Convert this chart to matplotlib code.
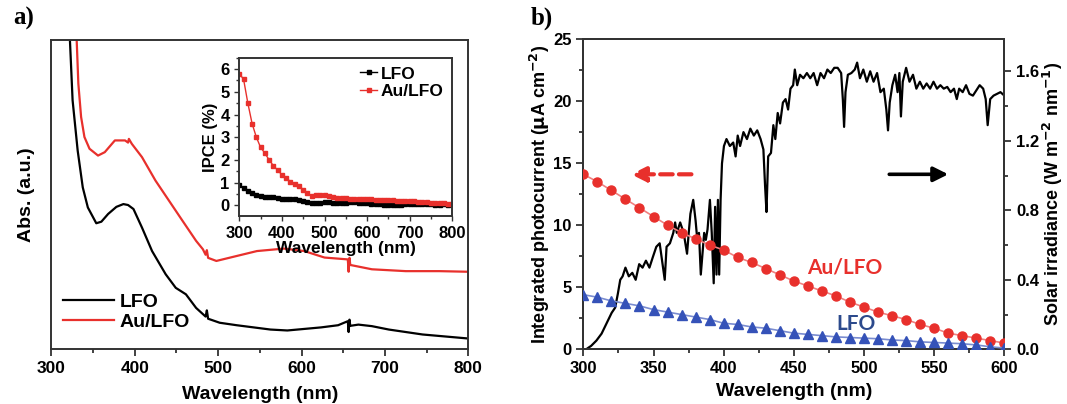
import matplotlib.pyplot as plt
from matplotlib.ticker import MultipleLocator

plt.rcParams['font.family'] = ['Liberation Sans', 'DejaVu Sans']
plt.rcParams['font.weight'] = 'bold'
plt.rcParams['axes.labelweight'] = 'bold'
plt.rcParams['mathtext.default'] = 'bf'

# ---- panel a: absorption spectra (arbitrary units) ----
abs_lfo_wl = [318, 322.3, 325.5, 331.6, 337.7, 343.8, 353.9, 360.0, 368.1, 378.0, 386.4, 392.0,
              398.5, 408.7, 420.8, 437.1, 449.2, 461.4, 473.6, 485.0, 486.5, 488.0, 501.9,
              522.2, 562.8, 583.0, 623.6, 643.9, 655.5, 656.5, 657.5, 658.5, 668.2, 684.4,
              704.7, 745.2, 800]
abs_lfo = [1.15, 1.0, 0.805, 0.642, 0.523, 0.458, 0.407, 0.412, 0.437, 0.460, 0.469, 0.466,
           0.453, 0.393, 0.317, 0.242, 0.198, 0.177, 0.133, 0.105, 0.125, 0.098, 0.085,
           0.077, 0.063, 0.060, 0.070, 0.077, 0.090, 0.055, 0.095, 0.075, 0.079, 0.074,
           0.063, 0.047, 0.034]

abs_au_wl = [327, 330.4, 332.4, 335.7, 339.7, 345.8, 356.0, 364.1, 376.2, 388.4, 392.0, 393.0,
             396.5, 408.7, 424.9, 441.1, 457.3, 473.6, 481.7, 485.0, 486.5, 488.0, 497.9,
             522.2, 546.6, 579.0, 603.3, 627.6, 655.5, 656.5, 657.5, 658.5, 684.4, 725.0,
             765.5, 800]
abs_au = [1.15, 1.0, 0.859, 0.751, 0.686, 0.648, 0.626, 0.637, 0.675, 0.675, 0.668, 0.680,
          0.664, 0.621, 0.545, 0.480, 0.415, 0.350, 0.323, 0.305, 0.320, 0.295, 0.285,
          0.301, 0.317, 0.325, 0.317, 0.296, 0.290, 0.250, 0.295, 0.272, 0.258, 0.252,
          0.252, 0.250]

# ---- inset: IPCE (%) ----
ipce_wl = list(range(300, 801, 10))
ipce_au = [5.8, 5.55, 4.5, 3.6, 3.0, 2.55, 2.3, 2.0, 1.75, 1.55, 1.35, 1.2, 1.05, 0.95, 0.85,
           0.7, 0.55, 0.42, 0.46, 0.44, 0.44, 0.42, 0.38, 0.35, 0.33, 0.32, 0.30, 0.29, 0.28,
           0.28, 0.27, 0.27, 0.26, 0.25, 0.24, 0.24, 0.22, 0.21, 0.20, 0.19, 0.19, 0.18,
           0.16, 0.15, 0.14, 0.13, 0.12, 0.10, 0.09, 0.08, 0.07]
ipce_lfo_wl = list(range(300, 791, 10))
ipce_lfo = [0.9, 0.75, 0.65, 0.55, 0.47, 0.42, 0.38, 0.37, 0.36, 0.33, 0.30, 0.28, 0.27, 0.28,
            0.25, 0.20, 0.15, 0.12, 0.12, 0.13, 0.15, 0.14, 0.13, 0.12, 0.12, 0.13, 0.14,
            0.14, 0.13, 0.11, 0.09, 0.06, 0.05, 0.06, 0.04, 0.02, 0.02, 0.03, 0.04, 0.05,
            0.05, 0.06, 0.07, 0.06, 0.05, 0.05, 0.04, 0.02, 0.05, 0.04]

# ---- panel b: integrated photocurrent (uA cm-2) ----
jph_wl = list(range(300, 601, 10))
jph_au = [14.1, 13.5, 12.8, 12.1, 11.4, 10.7, 10.0, 9.4, 8.9, 8.4, 8.0, 7.4, 7.0, 6.5, 6.0,
          5.5, 5.1, 4.7, 4.3, 3.8, 3.4, 3.0, 2.7, 2.4, 2.0, 1.7, 1.3, 1.1, 0.9, 0.7, 0.5]
jph_lfo = [4.4, 4.2, 3.9, 3.7, 3.5, 3.2, 3.0, 2.8, 2.6, 2.4, 2.1, 2.0, 1.8, 1.7, 1.5, 1.3,
           1.2, 1.1, 1.0, 0.95, 0.9, 0.85, 0.75, 0.7, 0.6, 0.55, 0.5, 0.45, 0.35, 0.2, 0.1]

# ---- solar irradiance (W m-2 nm-1) ----
sun_wl = [302, 305.6, 309.3, 313, 316.6, 320.2, 322.7, 324.6, 326.3, 328, 330, 332.4, 334.9,
          337.3, 339.8, 342.2, 344.6, 347.1, 349.5, 352, 354.4, 356.8, 358, 359.3, 361.7,
          364.1, 365.4, 366.6, 369, 371.5, 373.9, 375.1, 376.3, 378.3, 380, 381.2, 382.4,
          383.7, 384.9, 386.1, 387.3, 388.5, 390.2, 391.5, 392.9, 393.9, 394.9, 395.9,
          396.8, 397.8, 398.8, 400.2, 402, 404.4, 406.8, 408.5, 410, 411.7, 414.1, 416.6,
          419, 421.5, 423.9, 426.3, 428.3, 429.5, 430.5, 431.7, 433.7, 435.4, 436.8, 438.5,
          440.2, 442.2, 444.1, 445.9, 447.6, 449.5, 450.7, 452.4, 454.4, 456.8, 459.3,
          461.7, 464.1, 466.6, 469, 471.5, 473.9, 476.3, 478.8, 481.2, 483.7, 484.9, 485.8,
          486.8, 488.5, 491, 493.4, 495.1, 497.1, 499.5, 502, 504.4, 506.8, 509.3, 511.7,
          514.1, 515.9, 517.1, 518.3, 520.2, 522.2, 523.9, 525.2, 526.3, 527.6, 530, 532.4,
          534.9, 537.3, 539.8, 542.2, 544.6, 547.1, 549.5, 552, 554.4, 556.8, 559.3, 561.7,
          564.1, 566.1, 567.8, 570.3, 572.7, 575.1, 577.6, 580, 582.4, 584.9, 586.7, 588.1,
          589.9, 592.3, 594.8, 597.2, 600]
sun = [0.0, 0.02, 0.05, 0.09, 0.15, 0.21, 0.24, 0.32, 0.40, 0.42, 0.47, 0.42, 0.44,
       0.40, 0.49, 0.47, 0.51, 0.47, 0.53, 0.59, 0.61, 0.47, 0.40, 0.59, 0.61,
       0.67, 0.73, 0.67, 0.73, 0.67, 0.55, 0.67, 0.78, 0.86, 0.74, 0.63, 0.67,
       0.43, 0.55, 0.67, 0.63, 0.69, 0.86, 0.67, 0.38, 0.82, 0.43, 0.86,
       0.43, 0.86, 1.07, 1.17, 1.21, 1.17, 1.19, 1.11, 1.23, 1.17, 1.25, 1.21,
       1.27, 1.23, 1.26, 1.21, 1.15, 0.94, 0.79, 1.11, 1.13, 1.29, 1.21, 1.36,
       1.30, 1.42, 1.44, 1.38, 1.50, 1.52, 1.61, 1.52, 1.58, 1.56, 1.59,
       1.56, 1.59, 1.52, 1.59, 1.56, 1.61, 1.59, 1.62, 1.62, 1.59, 1.44, 1.28,
       1.48, 1.58, 1.59, 1.61, 1.65, 1.56, 1.61, 1.54, 1.60, 1.54, 1.59, 1.48,
       1.50, 1.38, 1.26, 1.42, 1.52, 1.58, 1.48, 1.59, 1.34, 1.54, 1.62, 1.54,
       1.58, 1.50, 1.54, 1.50, 1.53, 1.50, 1.54, 1.50, 1.52, 1.50, 1.51, 1.48,
       1.50, 1.44, 1.50, 1.48, 1.52, 1.47, 1.46, 1.49, 1.52, 1.50, 1.44, 1.29,
       1.44, 1.46, 1.47, 1.48, 1.46]

RED = '#e8302c'
BLUE = '#3552b8'
SPINE = '#333333'

fig = plt.figure(figsize=(10.67, 4.04), dpi=100)


def style_axes(ax, size=12):
    for s in ax.spines.values():
        s.set_linewidth(1.4)
        s.set_color(SPINE)
    ax.tick_params(which='both', direction='out', width=1.3, color=SPINE, labelsize=size)
    ax.tick_params(which='major', length=5)
    ax.tick_params(which='minor', length=3)


# panel a
ax1 = fig.add_axes([0.0481, 0.1361, 0.3908, 0.7649])
ax1.plot(abs_lfo_wl, abs_lfo, color='black', lw=1.6, label='LFO')
ax1.plot(abs_au_wl, abs_au, color=RED, lw=1.6, label='Au/LFO')
ax1.set_xlim(300, 800)
ax1.set_ylim(0, 1)
ax1.set_yticks([])
ax1.xaxis.set_major_locator(MultipleLocator(100))
ax1.xaxis.set_minor_locator(MultipleLocator(50))
style_axes(ax1, size=12.5)
ax1.tick_params(top=False, right=False)
ax1.set_xlabel('Wavelength (nm)', fontsize=14, labelpad=7)
ax1.set_ylabel('Abs. (a.u.)', fontsize=14, labelpad=12)
ax1.legend(loc='lower left', frameon=False, fontsize=14, handlelength=2.6,
           handletextpad=0.3, labelspacing=0.15, borderaxespad=0.2,
           bbox_to_anchor=(0.0, 0.02))

# inset
axi = fig.add_axes([0.2243, 0.4644, 0.1996, 0.3928])
axi.plot(ipce_lfo_wl, ipce_lfo, color='black', lw=1.0, marker='s', ms=2.5, label='LFO')
axi.plot(ipce_wl, ipce_au, color=RED, lw=1.0, marker='s', ms=2.5, label='Au/LFO')
axi.set_xlim(300, 800)
axi.set_ylim(-0.48, 6.5)
axi.xaxis.set_major_locator(MultipleLocator(100))
axi.xaxis.set_minor_locator(MultipleLocator(50))
axi.yaxis.set_major_locator(MultipleLocator(1))
axi.yaxis.set_minor_locator(MultipleLocator(0.5))
style_axes(axi, size=12)
axi.tick_params(which='both', width=1.0)
axi.tick_params(which='major', length=3.5)
axi.tick_params(which='minor', length=2)
axi.set_xlabel('Wavelength (nm)', fontsize=12.5, labelpad=0)
axi.set_ylabel('IPCE (%)', fontsize=12, labelpad=2)
axi.legend(loc='upper right', frameon=False, fontsize=12.5, handlelength=1.0,
           handletextpad=0.2, labelspacing=0.15, borderaxespad=0.1)

# panel b
ax2 = fig.add_axes([0.5467, 0.1354, 0.3946, 0.768])
ax2.plot(jph_wl, jph_au, color='#f08080', lw=1.2, marker='o', ms=6.5,
         mfc=RED, mec=RED, zorder=3)
ax2.plot(jph_wl, jph_lfo, color='#7a8cd0', lw=1.2, marker='^', ms=6.5,
         mfc=BLUE, mec=BLUE, zorder=3)
ax2.set_xlim(300, 600)
ax2.set_ylim(0, 25)
ax2.xaxis.set_major_locator(MultipleLocator(50))
ax2.xaxis.set_minor_locator(MultipleLocator(25))
ax2.yaxis.set_major_locator(MultipleLocator(5))
ax2.yaxis.set_minor_locator(MultipleLocator(2.5))
style_axes(ax2)
ax2.tick_params(top=False)
ax2.set_xlabel('Wavelength (nm)', fontsize=14, labelpad=5)
ax2.set_ylabel(r'Integrated photocurrent ($\mu$A cm$^{-2}$)', fontsize=13, labelpad=1)

ax3 = ax2.twinx()
ax3.plot(sun_wl, sun, color='black', lw=1.6, zorder=2)
ax3.set_ylim(0, 1.7857)
ax3.yaxis.set_major_locator(MultipleLocator(0.4))
ax3.yaxis.set_minor_locator(MultipleLocator(0.2))
ax3.yaxis.set_major_formatter(plt.FormatStrFormatter('%.1f'))
style_axes(ax3)
ax3.set_ylabel(r'Solar irradiance (W m$^{-2}$ nm$^{-1}$)', fontsize=13, labelpad=1)
ax2.set_zorder(ax3.get_zorder() + 1)
ax2.patch.set_visible(False)

ax2.annotate('', xy=(332, 14.1), xytext=(379, 14.1),
             arrowprops=dict(arrowstyle='-|>', color=RED, lw=3.0, ls=(0, (3, 1.5)),
                             mutation_scale=22))
ax2.annotate('', xy=(562, 14.1), xytext=(516, 14.1),
             arrowprops=dict(arrowstyle='-|>', color='black', lw=2.6, mutation_scale=22))
ax2.text(486, 6.6, 'Au/LFO', color=RED, fontsize=15, fontweight='bold',
         family=['Lato', 'DejaVu Sans'], ha='center', va='center')
ax2.text(494, 2.0, 'LFO', color='#2c4a8c', fontsize=15, fontweight='bold',
         family=['Lato', 'DejaVu Sans'], ha='center', va='center')

fig.text(0.012, 0.955, 'a)', fontsize=18, fontweight='bold',
         family=['Liberation Serif', 'DejaVu Serif'], va='center')
fig.text(0.497, 0.955, 'b)', fontsize=18, fontweight='bold',
         family=['Liberation Serif', 'DejaVu Serif'], va='center')

fig.savefig('out.png', dpi=100)
